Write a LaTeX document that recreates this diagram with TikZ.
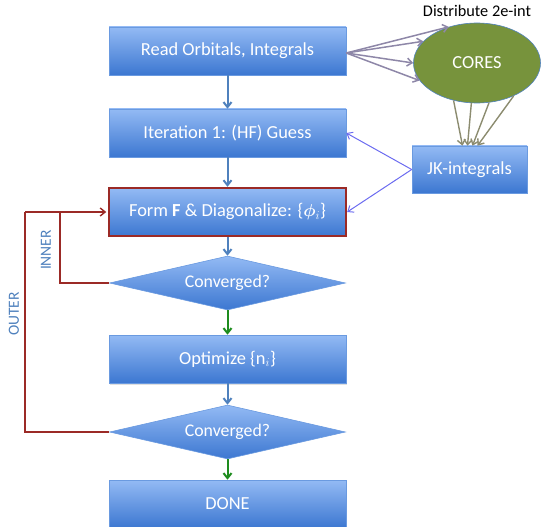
\documentclass[tikz,border=0pt]{standalone}
\usepackage{fontspec}
\setmainfont{Carlito}
\usepackage{bm}
\usetikzlibrary{shapes.geometric,arrows.meta,shadows}
\definecolor{boxtop}{HTML}{93BAF4}
\definecolor{boxbot}{HTML}{3C77D1}
\definecolor{boxline}{HTML}{6A9AE0}
\definecolor{flowblue}{HTML}{4F81BD}
\definecolor{flowgreen}{HTML}{1E8C1E}
\definecolor{loopred}{HTML}{9B2A26}
\definecolor{jkblue}{HTML}{6B6BF0}
\definecolor{coretop}{HTML}{8E87A8}
\definecolor{corebot}{HTML}{8C8C70}
\definecolor{olive}{HTML}{77933C}
\tikzset{
  x=1pt, y=-1pt,
  procbox/.style={draw=boxline, line width=0.6pt, top color=boxtop, bottom color=boxbot,
    minimum width=237pt, minimum height=48pt, inner sep=0pt, text=white,
    font=\fontsize{18.4}{21}\selectfont, drop shadow={opacity=0.25, shadow xshift=1pt, shadow yshift=-1.5pt}},
  decision/.style={diamond, draw=boxline, line width=0.6pt, top color=boxtop, bottom color=boxbot,
    minimum width=236pt, minimum height=54pt, aspect=4.37, inner sep=0pt, text=white,
    font=\fontsize{17.8}{20}\selectfont},
  tip/.style={-{Straight Barb[length=5pt,width=8pt]}},
  flow/.style={tip, draw=flowblue, line width=2pt},
  yes/.style={tip, draw=flowgreen, line width=2pt},
  loop/.style={draw=loopred, line width=1.4pt},
  jk/.style={tip, draw=jkblue, line width=1pt},
  distr/.style={tip, draw=coretop, line width=1.5pt},
  gather/.style={tip, draw=corebot, line width=1.4pt},
  looplabel/.style={text=flowblue, font=\fontsize{15.5}{18}\selectfont, rotate=90},
}
\begin{document}
\begin{tikzpicture}
\useasboundingbox (0,0) rectangle (542,527);
\node[procbox] (read) at (227.5,51) {Read Orbitals, Integrals};
\node[procbox] (iter) at (227.5,133) {Iteration 1: (HF) Guess};
\node[procbox, draw=loopred, line width=2.4pt] (form) at (227.5,212) {Form \textbf{F} \& Diagonalize: \{$\bm{\phi}_{i}$\}};
\node[decision] (conv1) at (227.5,283) {Converged?};
\node[procbox] (opt) at (227.5,359) {Optimize \{n$_{i}$\}};
\node[decision] (conv2) at (227.5,432) {Converged?};
\node[procbox] (done) at (227.5,504) {DONE};
\node[ellipse, draw=flowblue, line width=0.6pt, fill=olive, minimum width=127pt, minimum height=80pt,
  text=white, font=\fontsize{18.4}{21}\selectfont] (cores) at (477,63) {CORES};
\node[procbox, minimum width=115pt, minimum height=47pt] (jk) at (469.5,169.5) {JK-integrals};
\node[font=\fontsize{16.3}{19}\selectfont] (dist) at (477,11) {Distribute 2e-int};
\node[looplabel] (inner) at (46,250) {INNER};
\node[looplabel] (outer) at (14,314) {OUTER};
% main flow
\draw[flow] (read) -- (iter);
\draw[flow] (iter) -- (form);
\draw[flow] (form) -- (conv1);
\draw[yes] (conv1) -- (opt);
\draw[flow] (opt) -- (conv2);
\draw[yes] (conv2) -- (done);
% distribution arrows
\coordinate (rs) at ([yshift=-2pt]read.east);
\draw[distr] (rs) -- (cores.128);
\draw[distr] (rs) -- (cores.158);
\draw[distr] (rs) -- (cores.180);
\draw[distr] (rs) -- (cores.197);
\draw[gather] (cores.238) -- ([xshift=-7pt]jk.north);
\draw[gather] (cores.262) -- ([xshift=-2pt]jk.north);
\draw[gather] (cores.287) -- ([xshift=3pt]jk.north);
\draw[gather] (cores.318) -- ([xshift=8pt]jk.north);
% JK arrows
\draw[jk] (jk.west) -- (iter.east);
\draw[jk] (jk.west) -- (form.east);
% loops
\coordinate (innerx) at (60,283);
\coordinate (outerx) at (25,432);
\draw[loop] (conv1.west) -- (innerx) -- (innerx |- form.west);
\draw[loop] (conv2.west) -- (outerx) -- (outerx |- form.west);
\draw[loop, tip] (outerx |- form.west) -- ([xshift=-1.5pt]form.west);
\end{tikzpicture}
\end{document}
